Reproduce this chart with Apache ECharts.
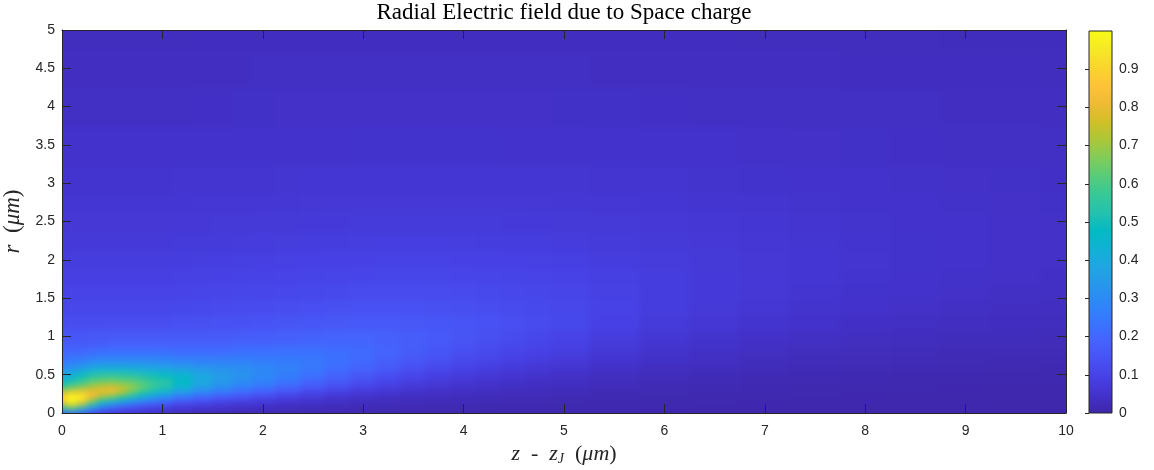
<!DOCTYPE html>
<html><head><meta charset="utf-8">
<script src="https://cdn.jsdelivr.net/npm/echarts@6/dist/echarts.min.js"></script>
<style>
html,body{margin:0;padding:0;background:#fff}
#wrap{position:relative;width:1154px;height:470px;overflow:hidden}
#hclip{position:absolute;left:62px;top:30px;width:1004px;height:383px;overflow:hidden}
#h{position:absolute;left:-24px;top:-24px;width:1052px;height:431px;filter:blur(3px)}
#c{position:absolute;left:0;top:0;width:1154px;height:470px}
</style>
</head><body><div id="wrap"><div id="hclip"><div id="h"></div></div><div id="c"></div></div>
<script>
// ---- data ----
const titleText = 'Radial Electric field due to Space charge';
const xTicks = [0, 1, 2, 3, 4, 5, 6, 7, 8, 9, 10];
const yTicks = [0, 0.5, 1, 1.5, 2, 2.5, 3, 3.5, 4, 4.5, 5];
const cbTicks = [0, 0.1, 0.2, 0.3, 0.4, 0.5, 0.6, 0.7, 0.8, 0.9];

// z positions (um) of the sampled columns
const zVals = [0, 0.1, 0.2, 0.3, 0.4, 0.5, 0.6, 0.7, 0.8, 0.9, 1.0, 1.2, 1.4, 1.6, 1.8, 2.0, 2.25, 2.5, 2.75, 3.0, 3.25, 3.5, 3.75, 4.0, 4.25, 4.5, 4.75, 5.0, 5.5, 6, 6.5, 7, 7.5, 8, 8.5, 9, 9.5, 10];
// r positions (um) of the sampled rows
const rVals = [0, 0.05, 0.1, 0.15, 0.2, 0.25, 0.3, 0.35, 0.4, 0.45, 0.5, 0.6, 0.7, 0.8, 0.9, 1.0, 1.2, 1.4, 1.6, 1.8, 2.0, 2.25, 2.5, 2.75, 3.0, 3.5, 4.0, 4.5, 5.0];

// field above r = 1 for the columns z = 0.1 ... 1.0 (read as equal there)
const upperNear = [0.13, 0.112, 0.1, 0.09, 0.082, 0.074, 0.066, 0.06, 0.055, 0.047, 0.04, 0.035, 0.031];

// normalised radial field, one column (profile along r) per z value
const fieldByZ = [
  [0.15,0.35,0.6,0.82,0.92,0.85,0.72,0.6,0.5,0.45,0.38,0.3,0.24,0.2,0.17,0.15, 0.125,0.108,0.097,0.088,0.08,0.072,0.065,0.06,0.055,0.047,0.04,0.035,0.03],
  [0.16,0.4,0.7,0.95,1.0,0.96,0.8,0.66,0.56,0.5,0.43,0.33,0.26,0.21,0.175,0.155, ...upperNear],
  [0.14,0.3,0.57,0.82,0.96,0.93,0.82,0.7,0.6,0.56,0.48,0.36,0.27,0.21,0.175,0.155, ...upperNear],
  [0.1,0.2,0.4,0.6,0.77,0.82,0.8,0.74,0.66,0.6,0.53,0.4,0.29,0.22,0.18,0.16, ...upperNear],
  [0.07,0.14,0.28,0.45,0.62,0.76,0.81,0.77,0.69,0.62,0.55,0.42,0.3,0.23,0.18,0.16, ...upperNear],
  [0.06,0.11,0.22,0.38,0.55,0.72,0.83,0.79,0.7,0.63,0.56,0.42,0.3,0.23,0.19,0.165, ...upperNear],
  [0.05,0.09,0.18,0.32,0.48,0.64,0.76,0.75,0.68,0.62,0.55,0.42,0.3,0.23,0.19,0.165, ...upperNear],
  [0.045,0.08,0.15,0.27,0.42,0.56,0.66,0.69,0.66,0.61,0.54,0.41,0.3,0.23,0.19,0.165, ...upperNear],
  [0.04,0.07,0.13,0.23,0.36,0.48,0.58,0.63,0.62,0.58,0.52,0.4,0.3,0.23,0.19,0.165, ...upperNear],
  [0.035,0.06,0.11,0.2,0.31,0.42,0.51,0.57,0.58,0.55,0.5,0.39,0.3,0.23,0.19,0.165, ...upperNear],
  [0.03,0.05,0.1,0.17,0.27,0.37,0.45,0.52,0.55,0.53,0.48,0.38,0.29,0.23,0.19,0.165, ...upperNear],
  [0.025,0.04,0.08,0.13,0.21,0.29,0.37,0.43,0.47,0.47,0.45,0.36,0.28,0.22,0.19,0.165, 0.135,0.115,0.102,0.092,0.084,0.075,0.067,0.061,0.056,0.047,0.04,0.035,0.031],
  [0.02,0.035,0.065,0.11,0.17,0.24,0.3,0.35,0.39,0.4,0.39,0.34,0.27,0.22,0.19,0.165, 0.137,0.117,0.104,0.094,0.085,0.076,0.068,0.062,0.056,0.048,0.041,0.036,0.032],
  [0.018,0.03,0.055,0.09,0.14,0.2,0.26,0.3,0.33,0.35,0.35,0.32,0.27,0.22,0.19,0.165, 0.14,0.12,0.106,0.095,0.086,0.077,0.069,0.063,0.057,0.048,0.041,0.036,0.032],
  [0.016,0.025,0.045,0.075,0.12,0.17,0.22,0.26,0.29,0.31,0.32,0.31,0.27,0.23,0.2,0.17, 0.143,0.122,0.108,0.097,0.088,0.078,0.07,0.064,0.058,0.049,0.042,0.036,0.032],
  [0.015,0.022,0.04,0.065,0.1,0.14,0.19,0.23,0.26,0.28,0.29,0.29,0.26,0.23,0.2,0.175, 0.146,0.125,0.11,0.099,0.09,0.08,0.071,0.064,0.058,0.049,0.042,0.037,0.033],
  [0.014,0.02,0.033,0.052,0.08,0.11,0.15,0.19,0.22,0.245,0.26,0.27,0.255,0.23,0.205,0.18, 0.15,0.128,0.113,0.101,0.091,0.081,0.072,0.065,0.059,0.05,0.043,0.037,0.033],
  [0.013,0.018,0.028,0.042,0.062,0.088,0.12,0.15,0.18,0.205,0.225,0.245,0.245,0.23,0.21,0.185, 0.155,0.132,0.116,0.103,0.093,0.082,0.073,0.066,0.06,0.05,0.043,0.037,0.033],
  [0.012,0.016,0.024,0.035,0.05,0.07,0.095,0.12,0.15,0.17,0.19,0.215,0.225,0.22,0.205,0.19, 0.16,0.136,0.119,0.105,0.095,0.084,0.074,0.067,0.06,0.05,0.043,0.037,0.033],
  [0.012,0.015,0.02,0.03,0.042,0.057,0.076,0.097,0.12,0.14,0.16,0.19,0.205,0.21,0.2,0.19, 0.163,0.14,0.122,0.107,0.096,0.085,0.075,0.068,0.061,0.051,0.043,0.037,0.033],
  [0.011,0.014,0.018,0.026,0.036,0.048,0.063,0.08,0.098,0.116,0.133,0.162,0.18,0.19,0.188,0.182, 0.162,0.14,0.123,0.108,0.097,0.086,0.076,0.068,0.061,0.051,0.043,0.037,0.033],
  [0.011,0.013,0.017,0.023,0.031,0.04,0.051,0.064,0.078,0.093,0.108,0.135,0.155,0.17,0.175,0.175, 0.16,0.14,0.123,0.109,0.097,0.086,0.076,0.068,0.061,0.051,0.043,0.037,0.033],
  [0.01,0.012,0.016,0.021,0.028,0.035,0.044,0.055,0.066,0.078,0.091,0.115,0.136,0.151,0.16,0.163, 0.155,0.138,0.122,0.108,0.097,0.086,0.076,0.068,0.061,0.051,0.043,0.037,0.033],
  [0.01,0.012,0.015,0.019,0.025,0.031,0.038,0.047,0.056,0.066,0.077,0.098,0.118,0.133,0.143,0.15, 0.148,0.134,0.12,0.107,0.096,0.085,0.075,0.068,0.061,0.051,0.043,0.037,0.033],
  [0.01,0.011,0.014,0.017,0.022,0.028,0.034,0.041,0.049,0.058,0.067,0.085,0.103,0.118,0.129,0.137, 0.14,0.129,0.117,0.105,0.095,0.084,0.075,0.067,0.061,0.051,0.043,0.037,0.033],
  [0.01,0.011,0.013,0.016,0.02,0.025,0.03,0.036,0.042,0.05,0.058,0.074,0.09,0.104,0.115,0.125, 0.132,0.124,0.113,0.103,0.093,0.083,0.074,0.067,0.06,0.05,0.043,0.037,0.033],
  [0.01,0.011,0.012,0.015,0.018,0.022,0.027,0.032,0.037,0.044,0.051,0.065,0.08,0.093,0.104,0.113, 0.123,0.118,0.109,0.1,0.091,0.082,0.073,0.066,0.06,0.05,0.043,0.037,0.033],
  [0.01,0.011,0.012,0.014,0.017,0.02,0.024,0.028,0.033,0.038,0.044,0.057,0.07,0.082,0.092,0.102, 0.114,0.111,0.104,0.097,0.089,0.08,0.072,0.065,0.059,0.05,0.042,0.037,0.033],
  [0.009,0.01,0.011,0.012,0.014,0.017,0.02,0.023,0.026,0.03,0.034,0.044,0.055,0.065,0.074,0.082, 0.095,0.097,0.094,0.089,0.083,0.076,0.07,0.063,0.058,0.049,0.042,0.036,0.033],
  [0.008,0.009,0.01,0.011,0.012,0.014,0.016,0.018,0.021,0.024,0.027,0.034,0.042,0.05,0.057,0.064, 0.076,0.083,0.084,0.082,0.078,0.072,0.067,0.061,0.056,0.048,0.041,0.036,0.032],
  [0.007,0.008,0.009,0.01,0.011,0.012,0.014,0.015,0.018,0.02,0.022,0.028,0.035,0.041,0.047,0.053, 0.064,0.071,0.074,0.074,0.072,0.067,0.063,0.058,0.054,0.047,0.04,0.035,0.032],
  [0.007,0.008,0.008,0.009,0.01,0.011,0.012,0.013,0.015,0.017,0.019,0.024,0.029,0.034,0.04,0.045, 0.055,0.062,0.066,0.067,0.066,0.063,0.06,0.056,0.052,0.045,0.039,0.035,0.031],
  [0.006,0.007,0.008,0.008,0.009,0.01,0.011,0.012,0.013,0.015,0.017,0.021,0.025,0.03,0.034,0.039, 0.047,0.054,0.058,0.06,0.061,0.059,0.056,0.053,0.05,0.044,0.038,0.034,0.031],
  [0.006,0.007,0.007,0.008,0.008,0.009,0.01,0.011,0.012,0.013,0.015,0.018,0.022,0.026,0.03,0.034, 0.041,0.047,0.052,0.055,0.056,0.055,0.053,0.05,0.048,0.042,0.037,0.033,0.03],
  [0.006,0.006,0.007,0.007,0.008,0.008,0.009,0.01,0.011,0.012,0.013,0.016,0.02,0.023,0.027,0.031, 0.037,0.043,0.047,0.05,0.052,0.051,0.05,0.048,0.046,0.041,0.037,0.033,0.03],
  [0.006,0.006,0.006,0.007,0.007,0.008,0.008,0.009,0.01,0.011,0.012,0.015,0.018,0.021,0.024,0.028, 0.034,0.039,0.043,0.046,0.048,0.048,0.047,0.046,0.044,0.04,0.036,0.032,0.029],
  [0.005,0.006,0.006,0.006,0.007,0.007,0.008,0.008,0.009,0.01,0.011,0.014,0.017,0.02,0.023,0.026, 0.032,0.036,0.04,0.043,0.045,0.045,0.045,0.044,0.042,0.039,0.035,0.032,0.029],
  [0.005,0.005,0.006,0.006,0.006,0.007,0.007,0.008,0.009,0.01,0.011,0.013,0.016,0.019,0.022,0.025, 0.03,0.034,0.038,0.041,0.043,0.043,0.043,0.042,0.041,0.038,0.034,0.031,0.028]
];

// parula colour map (evenly spaced samples)
const parula = ['#3E26A8','#4332CB','#4741E5','#4852F4','#4563FD','#3875FE','#2E87F7','#2796EB','#20A5E3','#12B1D6','#02BAC3','#24C1AE','#37C897','#57CC7A','#81CC59','#ABC739','#D1BF27','#F0BA36','#FEC338','#FAD62D','#F5E924','#F9FB15'];

// ---- build cells ----
function edges(v, i) {
  const n = v.length;
  const lo = i === 0 ? v[0] : (v[i - 1] + v[i]) / 2;
  const hi = i === n - 1 ? v[n - 1] : (v[i] + v[i + 1]) / 2;
  return [lo, hi];
}
const cells = [];
for (let i = 0; i < zVals.length; i++) {
  const ze = edges(zVals, i);
  for (let j = 0; j < rVals.length; j++) {
    const re = edges(rVals, j);
    cells.push([zVals[i], rVals[j], fieldByZ[i][j], ze[0], ze[1], re[0], re[1]]);
  }
}

const axisCol = '#262626';
const labelFont = 'Liberation Sans';
const serif = 'Liberation Serif';
const PAD = 24; // extra margin of the heat layer (hidden by the clip box)

// ---- heat layer (smoothed by a small blur, clipped to the plot box) ----
const heat = echarts.init(document.getElementById('h'), null, {renderer: 'canvas'});
heat.setOption({
  animation: false,
  grid: {left: PAD, right: PAD, top: PAD, bottom: PAD, outerBoundsMode: 'none'},
  xAxis: {type: 'value', min: xTicks[0], max: xTicks[xTicks.length - 1], show: false},
  yAxis: {type: 'value', min: yTicks[0], max: yTicks[yTicks.length - 1], show: false},
  visualMap: {show: false, type: 'continuous', seriesIndex: 0, dimension: 2, min: 0, max: 1, inRange: {color: parula}},
  series: [{
    type: 'custom', clip: false, encode: {x: 0, y: 1}, data: cells,
    renderItem: function (params, api) {
      const z0 = api.value(3), z1 = api.value(4), r0 = api.value(5), r1 = api.value(6);
      const p0 = api.coord([z0, r1]);
      const p1 = api.coord([z1, r0]);
      let x0 = Math.floor(p0[0]), y0 = Math.floor(p0[1]);
      let x1 = Math.ceil(p1[0]) + 1, y1 = Math.ceil(p1[1]) + 1;
      // stretch edge cells out under the clip box so the blur has no light rim
      if (z0 === xTicks[0]) x0 -= PAD;
      if (z1 === xTicks[xTicks.length - 1]) x1 += PAD;
      if (r0 === yTicks[0]) y1 += PAD;
      if (r1 === yTicks[yTicks.length - 1]) y0 -= PAD;
      return {type: 'rect', shape: {x: x0, y: y0, width: x1 - x0, height: y1 - y0},
        style: {fill: api.visual('color')}};
    }
  }]
});

// ---- axes, title, colour bar ----
const chart = echarts.init(document.getElementById('c'), null, {renderer: 'canvas'});
const grid0 = {left: 62, right: 88, top: 30, bottom: 57, outerBoundsMode: 'none'};
const grid1 = {left: 1089, width: 23, top: 31, bottom: 57, outerBoundsMode: 'none'};

const baseAxis = {
  type: 'value', z: 10,
  axisLine: {show: true, onZero: false, lineStyle: {color: axisCol, width: 1}},
  axisTick: {show: true, inside: true, length: 9, lineStyle: {color: axisCol, width: 1}},
  splitLine: {show: false},
  axisLabel: {color: axisCol, fontSize: 14, fontFamily: labelFont}
};

chart.setOption({
  animation: false,
  backgroundColor: 'transparent',
  title: {
    text: titleText, left: 564, top: 1, padding: 0, textAlign: 'center',
    textStyle: {fontFamily: serif, fontSize: 23, fontWeight: 'normal', color: '#000'}
  },
  grid: [grid0, grid1],
  xAxis: [
    Object.assign({}, baseAxis, {gridIndex: 0, position: 'bottom', min: xTicks[0], max: xTicks[xTicks.length - 1], interval: 1,
      axisLabel: Object.assign({}, baseAxis.axisLabel, {margin: 11}),
      name: '{i|z}  -  {i|z}{s|J}  ({i|μm})', nameLocation: 'middle', nameGap: 28,
      nameTextStyle: {fontFamily: serif, fontSize: 22, color: axisCol,
        rich: {i: {fontFamily: serif, fontStyle: 'italic', fontSize: 22, color: axisCol},
               s: {fontFamily: serif, fontStyle: 'italic', fontSize: 14, color: axisCol, verticalAlign: 'bottom', padding: [10, 0, 0, 0]}}}}),
    Object.assign({}, baseAxis, {gridIndex: 0, position: 'top', min: xTicks[0], max: xTicks[xTicks.length - 1], interval: 1,
      axisLabel: {show: false}}),
    {type: 'value', gridIndex: 1, min: 0, max: 1, show: false}
  ],
  yAxis: [
    Object.assign({}, baseAxis, {gridIndex: 0, position: 'left', min: yTicks[0], max: yTicks[yTicks.length - 1], interval: 0.5,
      axisLabel: Object.assign({}, baseAxis.axisLabel, {margin: 7}),
      name: '{i|r}  ({i|μm})', nameLocation: 'middle', nameGap: 33, nameRotate: 90,
      nameTextStyle: {fontFamily: serif, fontSize: 23, color: axisCol,
        rich: {i: {fontFamily: serif, fontStyle: 'italic', fontSize: 23, color: axisCol}}}}),
    Object.assign({}, baseAxis, {gridIndex: 0, position: 'right', min: yTicks[0], max: yTicks[yTicks.length - 1], interval: 0.5,
      axisLabel: {show: false}}),
    Object.assign({}, baseAxis, {gridIndex: 1, position: 'right', min: cbTicks[0], max: 1, interval: 0.1,
      axisLine: {show: false},
      axisTick: {show: true, inside: true, length: 4, lineStyle: {color: axisCol, width: 1}},
      axisLabel: Object.assign({}, baseAxis.axisLabel, {margin: 7, showMaxLabel: false,
        formatter: v => (cbTicks.some(t => Math.abs(t - v) < 1e-9) ? String(+v.toFixed(1)) : '')})})
  ],
  series: [
    {
      type: 'custom', xAxisIndex: 2, yAxisIndex: 2,
      data: [[0, 0]],
      renderItem: function (params, api) {
        const cs = params.coordSys;
        const stops = parula.map((c, k) => ({offset: k / (parula.length - 1), color: c}));
        return {type: 'rect', shape: {x: cs.x, y: cs.y, width: cs.width, height: cs.height},
          style: {fill: new echarts.graphic.LinearGradient(0, 1, 0, 0, stops), stroke: axisCol, lineWidth: 1}};
      }
    }
  ]
});
</script></body></html>
